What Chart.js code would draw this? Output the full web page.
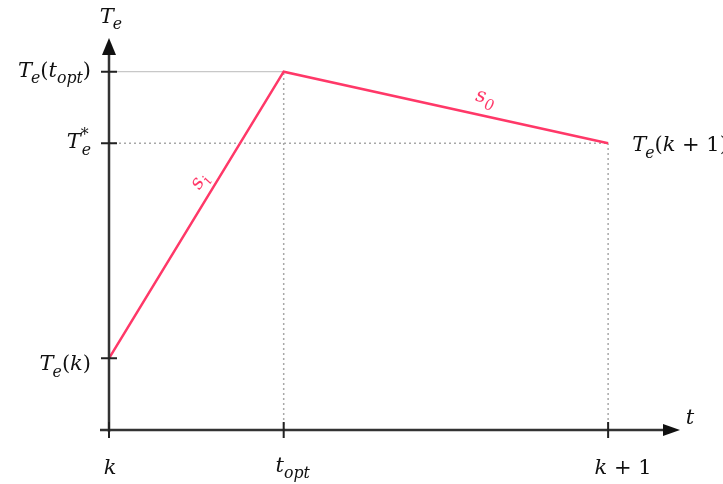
<!DOCTYPE html>
<html>
<head>
<meta charset="utf-8">
<script src="https://cdn.jsdelivr.net/npm/chart.js@4/dist/chart.umd.min.js"></script>
<style>
  html, body { margin: 0; padding: 0; background: #fff; }
</style>
</head>
<body>
<canvas id="c" width="723" height="484"></canvas>
<script>
// time points: k, t_opt, k+1 (k+1 normalised to 1)
const timeNames = ['k', 't_opt', 'k+1'];
const timeValues = [0, 0.35, 1];
// torque at those points: Te(k), Te(t_opt), Te(k+1) = Te*
const torqueValues = [1, 5, 4];
// y tick levels: Te(k), Te*, Te(t_opt)
const yTickValues = [1, 4, 5];

const red = '#ff3868';
const guide = '#a8a8a8';
const FONT = '"DejaVu Serif", serif';

// little helper for math-ish labels: parts = [[text, 'i'|'n', 'base'|'sub'|'sup', extraGap], ...]
function partFont(p, size) {
  const s = p[2] === 'base' ? size : size * 0.75;
  return (p[1] === 'i' ? 'italic ' : '') + s + 'px ' + FONT;
}
function mathWidth(ctx, parts, size) {
  let w = 0;
  for (const p of parts) {
    ctx.font = partFont(p, size);
    w += ctx.measureText(p[0]).width + (p[3] || 0);
  }
  return w;
}
function drawMath(ctx, parts, x, y, align, size, color) {
  size = size || 21;
  const w = mathWidth(ctx, parts, size);
  if (align === 'right') x -= w;
  else if (align === 'center') x -= w / 2;
  ctx.fillStyle = color || '#111';
  ctx.textBaseline = 'alphabetic';
  ctx.textAlign = 'left';
  for (const p of parts) {
    ctx.font = partFont(p, size);
    let dy = 0;
    if (p[2] === 'sub') dy = size * 0.3;
    if (p[2] === 'sup') dy = -size * 0.4;
    ctx.fillText(p[0], x, y + dy);
    x += ctx.measureText(p[0]).width + (p[3] || 0);
  }
}

const Te = [['T', 'i', 'base', -1], ['e', 'i', 'sub']];

// label placed at fraction f along segment a->b, shifted off the line by d px (negative = above/left)
function segLabel(ctx, parts, a, b, f, d) {
  const ang = Math.atan2(b.y - a.y, b.x - a.x);
  const cx = a.x + (b.x - a.x) * f + Math.sin(ang) * d * -1;
  const cy = a.y + (b.y - a.y) * f + Math.cos(ang) * d;
  ctx.save();
  ctx.translate(cx, cy);
  ctx.rotate(ang);
  drawMath(ctx, parts, 0, 6, 'center', 20, red);
  ctx.restore();
}

const axesPlugin = {
  id: 'axes',
  afterDatasetsDraw(chart) {
    const ctx = chart.ctx;
    const xs = chart.scales.x, ys = chart.scales.y;
    const x0 = xs.getPixelForValue(0), y0 = ys.getPixelForValue(0);
    const xEnd = chart.chartArea.right, yEnd = chart.chartArea.top;
    ctx.save();
    // axis lines
    ctx.strokeStyle = '#333';
    ctx.lineWidth = 2.5;
    ctx.beginPath();
    ctx.moveTo(x0 - 9, y0); ctx.lineTo(xEnd - 12, y0);
    ctx.moveTo(x0, y0 + 2); ctx.lineTo(x0, yEnd + 12);
    ctx.stroke();
    // arrow heads
    ctx.fillStyle = '#111';
    ctx.beginPath();
    ctx.moveTo(xEnd, y0); ctx.lineTo(xEnd - 17, y0 - 6); ctx.lineTo(xEnd - 17, y0 + 6); ctx.closePath();
    ctx.fill();
    ctx.beginPath();
    ctx.moveTo(x0, yEnd); ctx.lineTo(x0 - 7, yEnd + 17); ctx.lineTo(x0 + 7, yEnd + 17); ctx.closePath();
    ctx.fill();
    // ticks
    ctx.strokeStyle = '#222';
    ctx.lineWidth = 2;
    ctx.beginPath();
    timeValues.forEach(v => {
      const px = xs.getPixelForValue(v);
      ctx.moveTo(px, y0 - 8); ctx.lineTo(px, y0 + 8);
    });
    yTickValues.forEach(v => {
      const py = ys.getPixelForValue(v);
      ctx.moveTo(x0 - 8, py); ctx.lineTo(x0 + 8, py);
    });
    ctx.stroke();

    // axis titles
    drawMath(ctx, Te, x0 + 2, 23, 'center');
    drawMath(ctx, [['t', 'i', 'base']], xEnd + 10, 424, 'center');

    // x tick labels
    const lx = timeValues.map(v => xs.getPixelForValue(v));
    drawMath(ctx, [['k', 'i', 'base']], lx[0] + 1, 474, 'center');
    drawMath(ctx, [['t', 'i', 'base'], ['opt', 'i', 'sub']], lx[1] + 9, 472, 'center');
    drawMath(ctx, [['k', 'i', 'base'], [' + 1', 'n', 'base']], lx[2] + 15, 474, 'center');

    // y tick labels
    const ly = yTickValues.map(v => ys.getPixelForValue(v));
    drawMath(ctx, Te.concat([['(', 'n', 'base'], ['t', 'i', 'base'], ['opt', 'i', 'sub'], [')', 'n', 'base']]), 91, ly[2] + 5, 'right');
    drawMath(ctx, [['T', 'i', 'base'], ['*', 'n', 'sup', -7], ['e', 'i', 'sub']], 91, ly[1] + 5, 'right');
    drawMath(ctx, Te.concat([['(', 'n', 'base'], ['k', 'i', 'base'], [')', 'n', 'base']]), 91, ly[0] + 12, 'right');
    drawMath(ctx, Te.concat([['(', 'n', 'base'], ['k', 'i', 'base'], [' + 1)', 'n', 'base']]), lx[2] + 24, ly[1] + 8, 'left');

    // segment names, rotated along the line
    const pts = timeValues.map((v, i) => ({ x: lx[i], y: ys.getPixelForValue(torqueValues[i]) }));
    segLabel(ctx, [['s', 'i', 'base'], ['i', 'i', 'sub']], pts[0], pts[1], 0.59, -16);
    segLabel(ctx, [['s', 'i', 'base'], ['0', 'i', 'sub']], pts[1], pts[2], 0.61, -19);
    ctx.restore();
  }
};

const points = timeValues.map((t, i) => ({ x: t, y: torqueValues[i] }));

new Chart(document.getElementById('c'), {
  type: 'line',
  data: {
    datasets: [
      {
        label: 'Te',
        data: points,
        borderColor: red,
        borderWidth: 2.5,
        pointRadius: 0,
        tension: 0,
        clip: false,
        order: 0
      },
      {
        label: 'Te(t_opt) guide',
        data: [{ x: 0, y: torqueValues[1] }, { x: timeValues[1], y: torqueValues[1] }],
        borderColor: '#c8c8c8',
        borderWidth: 1.2,
        pointRadius: 0,
        order: 1
      },
      {
        label: 'Te* guide',
        data: [{ x: 0, y: torqueValues[2] }, { x: timeValues[2], y: torqueValues[2] }],
        borderColor: guide,
        borderWidth: 1.5,
        borderDash: [2, 3],
        pointRadius: 0,
        order: 1
      },
      {
        label: 't_opt guide',
        data: [{ x: timeValues[1], y: 0 }, { x: timeValues[1], y: torqueValues[1] }],
        borderColor: guide,
        borderWidth: 1.5,
        borderDash: [2, 3],
        pointRadius: 0,
        order: 1
      },
      {
        label: 'k+1 guide',
        data: [{ x: timeValues[2], y: 0 }, { x: timeValues[2], y: torqueValues[2] }],
        borderColor: guide,
        borderWidth: 1.5,
        borderDash: [2, 3],
        pointRadius: 0,
        order: 1
      }
    ]
  },
  options: {
    responsive: false,
    animation: false,
    layout: { padding: { left: 109, right: 43, top: 38, bottom: 54 } },
    plugins: { legend: { display: false }, tooltip: { enabled: false } },
    scales: {
      x: { type: 'linear', min: 0, max: 1.144, display: false },
      y: { type: 'linear', min: 0, max: 5.47, display: false }
    }
  },
  plugins: [axesPlugin]
});
</script>
</body>
</html>
